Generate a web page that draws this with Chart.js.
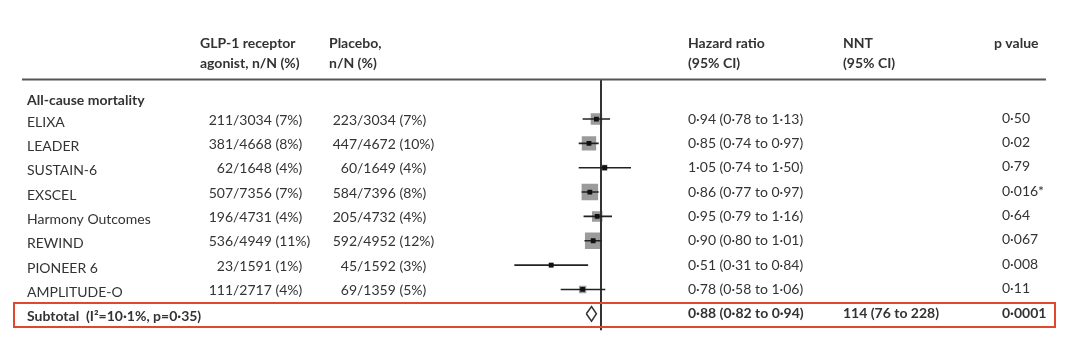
<!DOCTYPE html>
<html>
<head>
<meta charset="utf-8">
<script src="https://cdn.jsdelivr.net/npm/chart.js@4.4.1/dist/chart.umd.min.js"></script>
<style>
  html, body { margin: 0; padding: 0; background: #fff; }
  #wrap { position: relative; width: 1080px; height: 342px; }
</style>
</head>
<body>
<div id="wrap"><canvas id="forest" width="1080" height="342"></canvas></div>
<script>
// trial rows
const studies = ["ELIXA", "LEADER", "SUSTAIN-6", "EXSCEL", "Harmony Outcomes", "REWIND", "PIONEER 6", "AMPLITUDE-O"];
const glpEvents = [211, 381, 62, 507, 196, 536, 23, 111];
const glpTotal = [3034, 4668, 1648, 7356, 4731, 4949, 1591, 2717];
const glpPct = [7, 8, 4, 7, 4, 11, 1, 4];
const plcEvents = [223, 447, 60, 584, 205, 592, 45, 69];
const plcTotal = [3034, 4672, 1649, 7396, 4732, 4952, 1592, 1359];
const plcPct = [7, 10, 4, 8, 4, 12, 3, 5];
const hr = [0.94, 0.85, 1.05, 0.86, 0.95, 0.90, 0.51, 0.78];
const hrLow = [0.78, 0.74, 0.74, 0.77, 0.79, 0.80, 0.31, 0.58];
const hrHigh = [1.13, 0.97, 1.50, 0.97, 1.16, 1.01, 0.84, 1.06];
const pValues = ["0·50", "0·02", "0·79", "0·016*", "0·64", "0·067", "0·008", "0·11"];
const weights = [12, 19, 3, 25, 10, 25, 2, 5]; // rough study weight

// pooled row
const pooledHr = 0.88, pooledLow = 0.82, pooledHigh = 0.94;
const pooledNnt = "114 (76 to 228)";
const pooledP = "0·0001";
const subtotalLabel = "Subtotal  (I²=10·1%, p=0·35)";

const fmt = v => v.toFixed(2).replace(".", "·");
const subRow = studies.length;

const TXT = "#333";
const FONT = "Lato, 'DejaVu Sans', sans-serif";

const tablePlugin = {
  id: "table",
  afterDraw(chart) {
    const ctx = chart.ctx;
    const y = chart.scales.y;
    ctx.save();
    ctx.fillStyle = TXT;
    ctx.textBaseline = "middle";

    // headers
    ctx.font = "bold 14px " + FONT;
    ctx.textAlign = "left";
    ctx.fillText("GLP-1 receptor", 200, 43);
    ctx.fillText("agonist, n/N (%)", 200, 63);
    ctx.fillText("Placebo,", 329, 43);
    ctx.fillText("n/N (%)", 329, 63);
    ctx.fillText("Hazard ratio", 688, 43);
    ctx.fillText("(95% CI)", 688, 63);
    ctx.fillText("NNT", 843, 43);
    ctx.fillText("(95% CI)", 843, 63);
    ctx.fillText("p value", 994, 43);
    ctx.fillText("All-cause mortality", 27, 100);

    // header rule
    ctx.strokeStyle = "#555";
    ctx.lineWidth = 2;
    ctx.beginPath();
    ctx.moveTo(22, 79.5);
    ctx.lineTo(1046, 79.5);
    ctx.stroke();

    ctx.font = "14px " + FONT;
    studies.forEach((s, i) => {
      const py = y.getPixelForValue(i);
      ctx.textAlign = "left";
      ctx.fillText(s, 27, py + 3);
      // slash aligned counts
      ctx.textAlign = "right";
      ctx.fillText(String(glpEvents[i]), 233, py + 1);
      ctx.fillText(String(plcEvents[i]), 357, py + 1);
      ctx.textAlign = "left";
      ctx.fillText("/" + glpTotal[i] + " (" + glpPct[i] + "%)", 233, py + 1);
      ctx.fillText("/" + plcTotal[i] + " (" + plcPct[i] + "%)", 357, py + 1);
      ctx.fillText(fmt(hr[i]) + " (" + fmt(hrLow[i]) + " to " + fmt(hrHigh[i]) + ")", 688, py);
      ctx.fillText(pValues[i], 1002, py - 1);
    });

    // subtotal
    const sy = y.getPixelForValue(subRow);
    ctx.font = "bold 14px " + FONT;
    ctx.textAlign = "left";
    ctx.fillText(subtotalLabel, 27, sy + 3);
    ctx.fillText(fmt(pooledHr) + " (" + fmt(pooledLow) + " to " + fmt(pooledHigh) + ")", 688, sy);
    ctx.fillText(pooledNnt, 843, sy);
    ctx.fillText(pooledP, 1002, sy);

    // red highlight box
    ctx.strokeStyle = "#e1462f";
    ctx.lineWidth = 2;
    ctx.strokeRect(14, 303, 1041, 24);
    ctx.restore();
  }
};

const yMin = -1.645, yMax = 8.68;

const ciSets = studies.map((s, i) => ({
  data: [{ x: hrLow[i], y: i }, { x: hrHigh[i], y: i }],
  showLine: true,
  borderColor: "#222",
  borderWidth: 1.6,
  pointRadius: 0,
  order: 1
}));

new Chart(document.getElementById("forest"), {
  type: "scatter",
  data: {
    datasets: [
      {
        // diamond
        data: [
          { x: pooledLow, y: subRow },
          { x: pooledHr, y: subRow - 0.3 },
          { x: pooledHigh, y: subRow },
          { x: pooledHr, y: subRow + 0.3 },
          { x: pooledLow, y: subRow }
        ],
        showLine: true,
        borderColor: "#333",
        borderWidth: 1.5,
        pointRadius: 0,
        tension: 0,
        order: 0
      },
      {
        data: hr.map((v, i) => ({ x: v, y: i })),
        pointStyle: "rect",
        pointRadius: 3.4,
        backgroundColor: "#111",
        borderWidth: 0,
        order: 0
      },
      ...ciSets,
      {
        // line of no effect
        data: [{ x: 1, y: yMin }, { x: 1, y: subRow + 0.72 }],
        showLine: true,
        borderColor: "#333",
        borderWidth: 2,
        pointRadius: 0,
        order: 2
      },
      {
        data: hr.map((v, i) => ({ x: v, y: i })),
        pointStyle: "rect",
        pointRadius: weights.map(w => 3.3 * Math.sqrt(w) / 1.414),
        backgroundColor: "rgba(130,130,130,0.8)",
        borderWidth: 0,
        order: 3
      }
    ]
  },
  options: {
    responsive: false,
    devicePixelRatio: 1,
    animation: false,
    layout: { padding: { left: 470, right: 400, top: 79, bottom: 10 } },
    scales: {
      x: { type: "logarithmic", min: 0.1703, max: 2.908, bounds: "data", display: false },
      y: { type: "linear", min: yMin, max: yMax, reverse: true, display: false }
    },
    plugins: { legend: { display: false }, tooltip: { enabled: false } }
  },
  plugins: [tablePlugin]
});
</script>
</body>
</html>
